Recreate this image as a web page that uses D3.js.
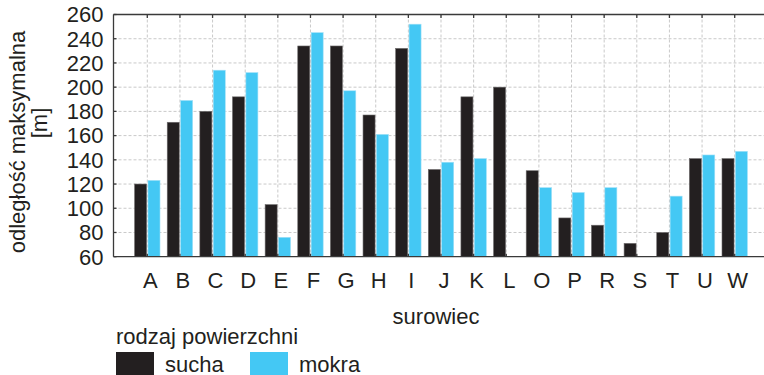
<!DOCTYPE html>
<html><head><meta charset="utf-8">
<script src="https://cdn.jsdelivr.net/npm/d3@7"></script>
<style>body{margin:0;background:#fff}svg{display:block;font-family:"Liberation Sans",Arial,sans-serif}</style>
</head><body>
<svg id="c" width="764" height="375"></svg>
<script>
const categories = ["A","B","C","D","E","F","G","H","I","J","K","L","O","P","R","S","T","U","W"];
const sucha = [120,171,180,192,103,234,234,177,232,132,192,200,131,92,86,71,80,141,141];
const mokra = [123,189,214,212,76,245,197,161,252,138,141,null,117,113,117,null,110,144,147];
const yTicks = [60,80,100,120,140,160,180,200,220,240,260];
const seriesNames = ["sucha","mokra"];
const colors = ["#231f20","#44c8f4"];

const svg = d3.select("#c");
const L = 113.5, R = 770, T = 14.5, B = 256.7;
const x = d3.scalePoint().domain(categories).range([147.3, 734.7]);
const y = d3.scaleLinear().domain([60,260]).range([B, T]);
const fs = 22;

// grid
const g = svg.append("g");
g.selectAll(".hg").data(yTicks.slice(1,-1)).join("line")
  .attr("x1", L).attr("x2", R).attr("y1", d=>y(d)).attr("y2", d=>y(d))
  .attr("stroke","#c9c9c9").attr("stroke-width",1).attr("stroke-dasharray","3,2");
g.selectAll(".vg").data(categories).join("line")
  .attr("x1", d=>x(d)).attr("x2", d=>x(d)).attr("y1", T).attr("y2", B)
  .attr("stroke","#c9c9c9").attr("stroke-width",1).attr("stroke-dasharray","3,2");

// bars
const bw = 12;
const series = [sucha, mokra];
series.forEach((vals, si) => {
  svg.append("g").selectAll("rect").data(categories.map((c,i)=>({c, v: vals[i]})).filter(d=>d.v!=null))
    .join("rect")
    .attr("x", d => si===0 ? x(d.c) - bw - 0.7 : x(d.c) + 0.7)
    .attr("width", bw)
    .attr("y", d => y(d.v))
    .attr("height", d => B - y(d.v))
    .attr("fill", colors[si])
    .attr("stroke", si===0 ? "#6d6a6b" : "#9fdff7").attr("stroke-width", 0.6);
});

// axes frame
const ax = svg.append("g").attr("stroke","#3a3a3a").attr("stroke-width",1.3);
ax.append("line").attr("x1",L).attr("x2",R).attr("y1",T).attr("y2",T);
ax.append("line").attr("x1",L).attr("x2",R).attr("y1",B).attr("y2",B);
ax.append("line").attr("x1",L).attr("x2",L).attr("y1",T).attr("y2",B);
ax.selectAll(".tt").data(categories).join("line")
  .attr("x1", d=>x(d)).attr("x2", d=>x(d)).attr("y1", T).attr("y2", T+3.5);
ax.selectAll(".bt").data(categories).join("line")
  .attr("x1", d=>x(d)).attr("x2", d=>x(d)).attr("y1", B).attr("y2", B-3);
ax.selectAll(".lt").data(yTicks).join("line")
  .attr("x1", L).attr("x2", L+3).attr("y1", d=>y(d)).attr("y2", d=>y(d));

// y tick labels
svg.append("g").selectAll("text").data(yTicks).join("text")
  .attr("x", 103.5).attr("y", d=>y(d)+7.8).attr("text-anchor","end")
  .attr("font-size", fs).attr("fill","#231f20").text(d=>d);

// x labels
svg.append("g").selectAll("text").data(categories).join("text")
  .attr("x", d=>x(d)+3).attr("y", 287.5).attr("text-anchor","middle")
  .attr("font-size", fs).attr("fill","#231f20").text(d=>d);

// axis titles
svg.append("text").attr("x", 436).attr("y", 323.5).attr("text-anchor","middle")
  .attr("font-size", fs).attr("fill","#231f20").text("surowiec");
svg.append("text").attr("transform","translate(25,142) rotate(-90)").attr("text-anchor","middle")
  .attr("font-size", fs).attr("fill","#231f20").text("odległość maksymalna");
svg.append("text").attr("transform","translate(47,123) rotate(-90)").attr("text-anchor","middle")
  .attr("font-size", fs).attr("fill","#231f20").text("[m]");

// legend
svg.append("text").attr("x",116).attr("y",343.5).attr("font-size",fs).attr("fill","#231f20").text("rodzaj powierzchni");
const lx = [116, 250];
seriesNames.forEach((n,i)=>{
  svg.append("rect").attr("x",lx[i]).attr("y",352).attr("width",38).attr("height",23).attr("fill",colors[i]);
  svg.append("text").attr("x",lx[i]+49).attr("y",371.5).attr("font-size",fs).attr("fill","#231f20").text(n);
});
</script>
</body></html>
